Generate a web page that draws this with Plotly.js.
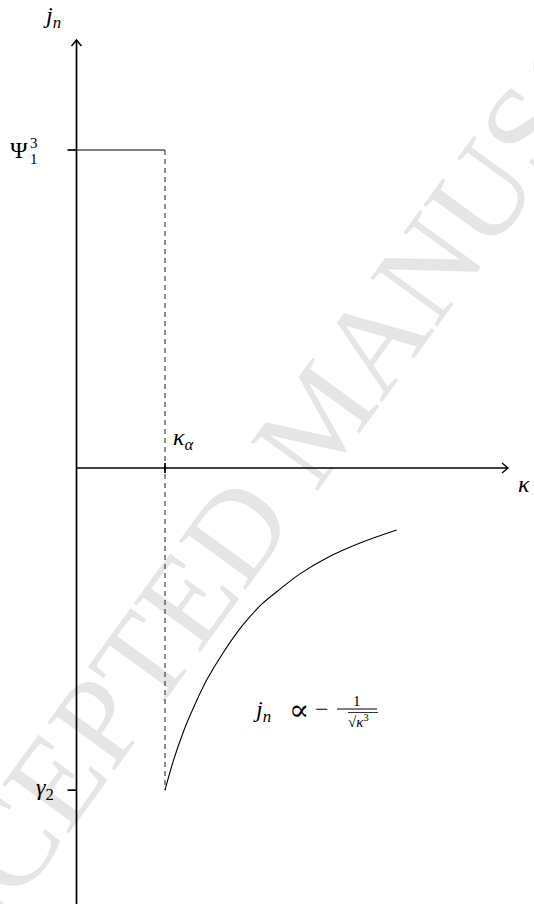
<!DOCTYPE html>
<html>
<head>
<meta charset="utf-8">
<script src="https://cdn.plot.ly/plotly-3.0.1.min.js"></script>
<style>
  html, body { margin: 0; padding: 0; background: #ffffff; }
  #chart { width: 534px; height: 904px; }
</style>
</head>
<body>
<div id="chart"></div>
<script>
// Characteristic levels of the current density j_n
const kappaAlpha = 1.0;      // κ_α, the threshold on the κ axis
const psiLevel = 1.0;        // Ψ_1^3, constant value for κ < κ_α
const gammaLevel = -1.013;   // γ_2, value reached at κ = κ_α from the right

// Decaying branch j_n ∝ -1/sqrt(κ^3) for κ > κ_α
const curveKappa = [1.00, 1.094, 1.207, 1.320, 1.471, 1.659, 1.885, 2.102, 2.299, 2.525, 2.827, 3.203, 3.618];
const curveJ = [-1.013, -0.921, -0.830, -0.755, -0.667, -0.580, -0.492, -0.426, -0.381, -0.333, -0.283, -0.236, -0.195];

// Extent of the drawn axes (arrow tips)
const kappaAxisEnd = 4.876;
const jAxisTop = 1.346;
const jAxisBottom = -1.40;

const W = 534, H = 904;
const px = x => x / W;          // page pixel -> paper x
const py = y => 1 - y / H;      // page pixel -> paper y

const serif = "'Liberation Serif', 'DejaVu Serif', serif";
const ink = '#000000';

const traces = [
  { // constant level Ψ_1^3 up to κ_α
    x: [0, kappaAlpha], y: [psiLevel, psiLevel],
    mode: 'lines', line: { color: ink, width: 1 },
    hoverinfo: 'skip', showlegend: false
  },
  { // dashed drop at κ_α
    x: [kappaAlpha, kappaAlpha], y: [psiLevel, gammaLevel],
    mode: 'lines', line: { color: '#333333', width: 1.1, dash: '5px,4px' },
    hoverinfo: 'skip', showlegend: false
  },
  { // decaying branch
    x: curveKappa, y: curveJ,
    mode: 'lines',
    line: { color: ink, width: 1.1, shape: 'spline', smoothing: 1, simplify: false },
    hoverinfo: 'skip', showlegend: false
  }
];

const axisLine = { color: ink, width: 1.7 };

// watermark baseline direction (degrees above horizontal) and centre
const wmAngle = 54 * Math.PI / 180;
const wmCx = 308, wmCy = 408, wmHalf = 300;

const shapes = [
  // diagonal watermark, kept under everything else
  {
    type: 'line', layer: 'below', xref: 'paper', yref: 'paper',
    x0: px(wmCx - wmHalf * Math.cos(wmAngle)), y0: py(wmCy + wmHalf * Math.sin(wmAngle)),
    x1: px(wmCx + wmHalf * Math.cos(wmAngle)), y1: py(wmCy - wmHalf * Math.sin(wmAngle)),
    line: { color: 'rgba(0,0,0,0)', width: 1 },
    label: {
      text: 'ACCEPTED MANUSCRIPT',
      font: { family: serif, size: 126, color: '#e5e5e5' },
      textposition: 'middle', yanchor: 'middle', xanchor: 'center'
    }
  },
  // j_n axis
  { type: 'line', xref: 'x', yref: 'y', x0: 0, x1: 0, y0: jAxisBottom, y1: jAxisTop, line: axisLine },
  // κ axis
  { type: 'line', xref: 'x', yref: 'y', x0: 0, x1: kappaAxisEnd, y0: 0, y1: 0, line: axisLine },
  // arrow heads
  {
    type: 'path', xref: 'x', yref: 'y', xsizemode: 'pixel', ysizemode: 'pixel',
    xanchor: 0, yanchor: jAxisTop,
    path: 'M -5,-6 Q -1.5,-2 0,0 Q 1.5,-2 5,-6', line: { color: ink, width: 1.4 }
  },
  {
    type: 'path', xref: 'x', yref: 'y', xsizemode: 'pixel', ysizemode: 'pixel',
    xanchor: kappaAxisEnd, yanchor: 0,
    path: 'M -6,5 Q -2,1.5 0,0 Q -2,-1.5 -6,-5', line: { color: ink, width: 1.4 }
  },
  // ticks
  {
    type: 'line', xref: 'x', yref: 'y', xsizemode: 'pixel', xanchor: 0,
    x0: -9, x1: 0, y0: psiLevel, y1: psiLevel, line: axisLine
  },
  {
    type: 'line', xref: 'x', yref: 'y', xsizemode: 'pixel', xanchor: 0,
    x0: -9, x1: 0, y0: gammaLevel, y1: gammaLevel, line: axisLine
  },
  {
    type: 'line', xref: 'x', yref: 'y', ysizemode: 'pixel', yanchor: 0,
    x0: kappaAlpha, x1: kappaAlpha, y0: -5, y1: 5, line: axisLine
  },
  // fraction bar and radical bar of the formula
  { type: 'line', xref: 'paper', yref: 'paper', x0: px(337), x1: px(377), y0: py(709), y1: py(709), line: { color: ink, width: 1 } },
  { type: 'line', xref: 'paper', yref: 'paper', x0: px(348), x1: px(378), y0: py(712.5), y1: py(712.5), line: { color: ink, width: 0.8 } }
];

const ann = (text, x, y, opts) => Object.assign({
  text, x: px(x), y: py(y), xref: 'paper', yref: 'paper',
  showarrow: false, font: { family: serif, size: 24, color: ink },
  xanchor: 'center', yanchor: 'middle', borderpad: 0
}, opts || {});
const small = { family: serif, size: 15, color: ink };

const annotations = [
  ann('<i>j</i><sub><i>n</i></sub>', 52, 17),
  ann('<i>κ</i>', 524, 484),
  ann('<i>κ</i><sub><i>α</i></sub>', 172, 439, { xanchor: 'left' }),
  ann('Ψ', 29, 150, { xanchor: 'right' }),
  ann('3', 34, 143, { font: small }),
  ann('1', 34, 159, { font: small }),
  ann('<i>γ</i><sub>2</sub>', 55, 789, { xanchor: 'right' }),
  ann('<i>j</i><sub><i>n</i></sub>', 262, 711),
  ann('∝', 299, 709, { font: { family: serif, size: 30, color: ink } }),
  ann('−', 322, 709),
  ann('1', 357, 701, { font: small }),
  ann('√<i>κ</i><sup>3</sup>', 358, 721, { font: small })
];

const layout = {
  width: W, height: H,
  margin: { l: 0, r: 0, t: 0, b: 0 },
  paper_bgcolor: '#ffffff', plot_bgcolor: '#ffffff',
  showlegend: false,
  xaxis: { range: [-76.5 / 88.5, (W - 76.5) / 88.5], visible: false, fixedrange: true },
  yaxis: { range: [(468 - H) / 318, 468 / 318], visible: false, fixedrange: true },
  shapes, annotations
};

Plotly.newPlot('chart', traces, layout, { staticPlot: true, displayModeBar: false });
</script>
</body>
</html>
